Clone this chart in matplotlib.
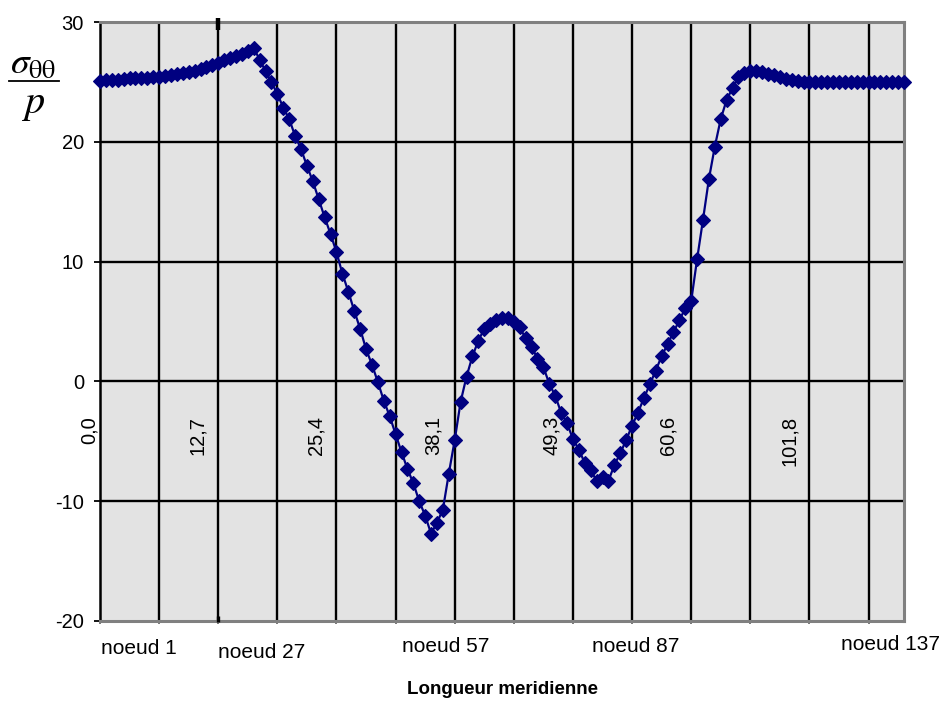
import matplotlib
matplotlib.use("Agg")
import matplotlib.pyplot as plt
from matplotlib.lines import Line2D

# ---------------- data ----------------
stress = [
    25.1, 25.15, 25.2, 25.2, 25.25, 25.3, 25.3, 25.3, 25.35, 25.4,
    25.45, 25.5, 25.55, 25.65, 25.75, 25.85, 25.95, 26.1, 26.25, 26.4,
    26.6, 26.85, 27.0, 27.15, 27.35, 27.55, 27.85, 26.85, 25.9, 24.98,
    24.0, 22.85, 21.9, 20.5, 19.4, 18.0, 16.7, 15.2, 13.7, 12.3,
    10.8, 9.0, 7.5, 5.9, 4.4, 2.7, 1.4, -0.05, -1.6, -2.9,
    -4.4, -5.9, -7.3, -8.5, -10.0, -11.2, -12.7, -11.8, -10.7, -7.7,
    -4.9, -1.7, 0.4, 2.1, 3.4, 4.4, 4.8, 5.1, 5.3, 5.3,
    5.0, 4.5, 3.6, 2.9, 1.9, 1.2, -0.2, -1.2, -2.6, -3.5,
    -4.8, -5.7, -6.8, -7.4, -8.3, -8.0, -8.3, -7.0, -6.0, -4.9,
    -3.7, -2.6, -1.4, -0.25, 0.9, 2.1, 3.1, 4.1, 5.1, 6.1,
    6.7, 10.2, 13.5, 16.9, 19.6, 21.9, 23.5, 24.5, 25.4, 25.75,
    25.9, 25.95, 25.85, 25.7, 25.55, 25.4, 25.25, 25.15, 25.05, 25.0,
    25.0, 25.0, 25.0, 25.0, 25.0, 25.0, 25.0, 25.0, 25.0, 25.0,
    25.0, 25.0, 25.0, 25.0, 25.0, 25.0, 25.0,
]
node_labels = ["noeud 1", "noeud 27", "noeud 57", "noeud 87", "noeud 137"]
length_labels = ["0,0", "12,7", "25,4", "38,1", "49,3", "60,6", "101,8"]
y_ticks = [-20, -10, 0, 10, 20, 30]
x_title = "Longueur meridienne"

# ---------------- layout ----------------
W, H = 946, 704
L, R, T, B = 100, 904, 22, 621

def fx(x):
    return x / W

def fy(y):
    return 1 - y / H

plt.rcParams['font.family'] = ['Liberation Sans', 'DejaVu Sans']
plt.rcParams['mathtext.fontset'] = 'stix'

fig = plt.figure(figsize=(W / 100, H / 100), dpi=100)
ax = fig.add_axes([L / W, 1 - B / H, (R - L) / W, (B - T) / H])
ax.set_facecolor('#e3e3e3')

n = len(stress)
xs = list(range(n))
ax.set_xlim(0, n - 1)
ax.set_ylim(-20, 30)

ax.set_xticks(range(0, n, 10))
ax.set_xticklabels([])
ax.set_yticks(y_ticks)
ax.set_yticklabels([str(v) for v in y_ticks], fontsize=14.5)
ax.tick_params(axis='y', direction='out', length=4.5, width=1.3, color='black', pad=7)
ax.tick_params(axis='x', direction='out', length=2.5, width=1.2, color='#606060')

for v in y_ticks[1:-1]:
    ax.axhline(v, color='black', lw=1.7, zorder=1)
for i in range(10, n, 10):
    ax.axvline(i, color='black', lw=1.7, zorder=1)

for s in ['top', 'right', 'bottom']:
    ax.spines[s].set_color('#808080')
    ax.spines[s].set_linewidth(2.2)
ax.spines['left'].set_color('black')
ax.spines['left'].set_linewidth(1.8)

# special marker line at node index 20
ax.plot([20, 20], [29.3, 30.35], color='black', lw=3.2, clip_on=False, zorder=4,
        solid_capstyle='butt')
ax.plot([20, 20], [-19.6, -20.05], color='black', lw=2.4, clip_on=False, zorder=4,
        solid_capstyle='butt')

ax.plot(xs, stress, color='#000080', lw=1.6, marker='D', ms=7.2,
        mfc='#000080', mec='#000080', mew=0.8, zorder=5, clip_on=False)

# rotated length labels
len_x = [89, 197, 316, 433, 551, 668, 789]
for lab, x in zip(length_labels, len_x):
    fig.text(fx(x), fy(416), lab, rotation=90, ha='center', va='top', fontsize=14.5)

# node labels
node_x = [139, 262, 446, 636, 890]
node_y = [649, 652, 647, 647, 644]
for lab, x, y in zip(node_labels, node_x, node_y):
    fig.text(fx(x), fy(y), lab, ha='center', va='center', fontsize=15)

fig.text(fx(502), fy(690), x_title, ha='center', va='center', fontsize=13.5,
         fontweight='bold')

# y label: sigma_theta_theta / p
fig.text(fx(33), fy(64), r'$\sigma_{\mathrm{\theta\theta}}$', ha='center', va='center',
         fontsize=27)
fig.add_artist(Line2D([fx(9), fx(59)], [fy(81), fy(81)], color='black', lw=1.3))
fig.text(fx(33), fy(104), r'$p$', ha='center', va='center', fontsize=29)

fig.savefig('out.png', dpi=100)
